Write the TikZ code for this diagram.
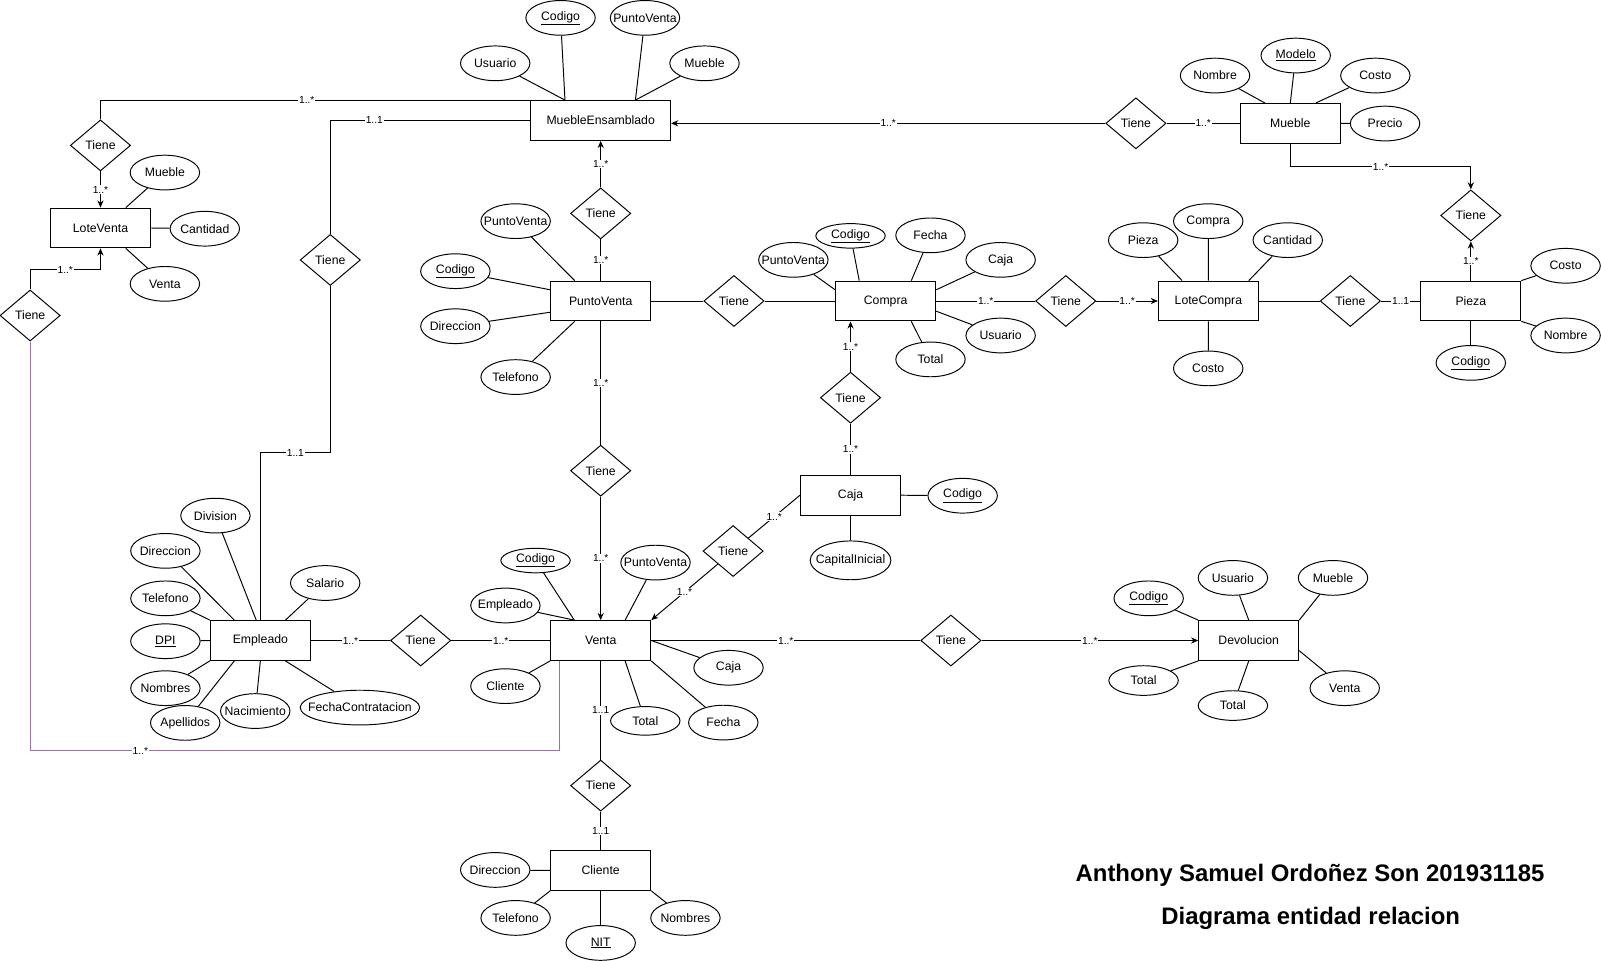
\documentclass[tikz,border=0pt]{standalone}
\usepackage{fontspec}
\setmainfont{Liberation Sans}
\usetikzlibrary{shapes.geometric,arrows.meta}
\newcommand{\zw}[1]{\makebox[0pt][c]{#1}}
\definecolor{purp}{HTML}{9673A6}
\begin{document}
\begin{tikzpicture}[x=1pt,y=-1pt,
 every node/.style={font=\fontsize{12}{14}\selectfont},
 ent/.style={draw,rectangle,minimum width=98pt,minimum height=39pt,inner sep=0pt,line width=0.95pt},
 rel/.style={draw,diamond,minimum width=59pt,minimum height=50pt,inner sep=0pt,line width=0.95pt},
 att/.style={draw,ellipse,minimum width=68pt,minimum height=34pt,inner sep=0pt,line width=0.95pt},
 lbl/.style={fill=white,inner sep=0.8pt,font=\fontsize{10}{11}\selectfont},
 con/.style={line width=0.95pt},
 arr/.style={con,-{Stealth[length=7pt,width=6pt]}},
 ttl/.style={font=\bfseries\fontsize{23.4}{27}\selectfont,anchor=base}]
\useasboundingbox (0,0) rectangle (1568,941);

% entities
\node[ent,minimum width=137pt] (me) at (588.3,118) {MuebleEnsamblado};
\node[ent] (mu) at (1263.7,120.8) {Mueble};
\node[ent] (lv) at (98.4,223.3) {LoteVenta};
\node[ent] (pv) at (588.3,294.8) {PuntoVenta};
\node[ent] (co) at (867.4,294.8) {Compra};
\node[ent] (lc) at (1183.5,294.8) {LoteCompra};
\node[ent] (pz) at (1440.5,294.8) {Pieza};
\node[ent] (cj) at (833,485) {Caja};
\node[ent] (em) at (255,627.3) {Empleado};
\node[ent] (ve) at (588.3,627.3) {Venta};
\node[ent] (dv) at (1223,627.3) {Devolucion};
\node[ent] (cl) at (588.3,852.5) {Cliente};

% relationships
\node[rel] (r1) at (98.4,142.4) {Tiene};
\node[rel] (r2) at (29.5,309) {Tiene};
\node[rel] (r3) at (323.5,254.6) {Tiene};
\node[rel] (r4) at (1112.5,120.8) {Tiene};
\node[rel] (r5) at (1440.5,211) {Tiene};
\node[rel] (r6) at (1322.5,294.8) {Tiene};
\node[rel] (r7) at (1043.8,294.8) {Tiene};
\node[rel] (r8) at (718.8,294.8) {Tiene};
\node[rel] (r9) at (833,389.5) {Tiene};
\node[rel] (r10) at (588.3,209) {Tiene};
\node[rel] (r11) at (588.3,461) {Tiene};
\node[rel] (r12) at (718,539.7) {Tiene};
\node[rel] (r13) at (412,627.3) {Tiene};
\node[rel] (r14) at (931.3,627.3) {Tiene};
\node[rel] (r15) at (588.3,769.4) {Tiene};

% attributes
\node[att] (meU) at (485,62) {\zw{Usuario}};
\node[att] (meC) at (549,17.5) {\zw{\underline{Codigo}}};
\node[att] (meP) at (631.7,17.5) {\zw{PuntoVenta}};
\node[att] (meM) at (690,62) {\zw{Mueble}};

\node[att] (muN) at (1190,74) {\zw{Nombre}};
\node[att] (muM) at (1269,54.4) {\zw{\underline{Modelo}}};
\node[att] (muC) at (1347,74) {\zw{Costo}};
\node[att] (muP) at (1356.5,121) {\zw{Precio}};

\node[att] (lvM) at (161.5,169) {\zw{Mueble}};
\node[att] (lvC) at (200.6,224) {\zw{Cantidad}};
\node[att] (lvV) at (161.5,278) {\zw{Venta}};

\node[att] (pvP) at (505,216.6) {\zw{PuntoVenta}};
\node[att] (pvC) at (446,265.6) {\zw{\underline{Codigo}}};
\node[att] (pvD) at (446,319.5) {\zw{Direccion}};
\node[att] (pvT) at (505,369.3) {\zw{Telefono}};

\node[att,minimum height=24pt] (coC) at (833,231) {\zw{\underline{Codigo}}};
\node[att] (coP) at (777,254.5) {\zw{PuntoVenta}};
\node[att] (coF) at (911.3,230.5) {\zw{Fecha}};
\node[att] (coJ) at (980,254.5) {\zw{Caja}};
\node[att] (coU) at (980,328.6) {\zw{Usuario}};
\node[att] (coT) at (911.3,352) {\zw{Total}};

\node[att] (lcP) at (1119.6,235.2) {\zw{Pieza}};
\node[att] (lcC) at (1183.3,216.6) {\zw{Compra}};
\node[att] (lcA) at (1261.2,235.2) {\zw{Cantidad}};
\node[att] (lcO) at (1183.3,360.8) {\zw{Costo}};

\node[att] (pzC) at (1533.3,260.3) {\zw{Costo}};
\node[att] (pzN) at (1533.3,328.6) {\zw{Nombre}};
\node[att] (pzK) at (1440.5,355.4) {\zw{\underline{Codigo}}};

\node[att] (cjC) at (942.8,485.5) {\zw{\underline{Codigo}}};
\node[att,minimum width=79pt,minimum height=38pt] (cjI) at (833,548.8) {\zw{CapitalInicial}};

\node[att] (emV) at (211,505) {\zw{Division}};
\node[att] (emD) at (162,539.5) {\zw{Direccion}};
\node[att] (emT) at (162,586) {\zw{Telefono}};
\node[att] (emS) at (318.5,571) {\zw{Salario}};
\node[att] (emI) at (162,628) {\zw{\underline{DPI}}};
\node[att] (emN) at (162,674) {\zw{Nombres}};
\node[att] (emA) at (181.4,708) {\zw{Apellidos}};
\node[att] (emB) at (250,696.4) {\zw{Nacimiento}};
\node[att,minimum width=117pt] (emF) at (352.5,693) {\zw{FechaContratacion}};

\node[att,minimum height=24pt] (veC) at (524.5,549) {\zw{\underline{Codigo}}};
\node[att] (veP) at (642,551) {\zw{PuntoVenta}};
\node[att] (veE) at (495,593) {\zw{Empleado}};
\node[att] (veL) at (495,672) {\zw{Cliente}};
\node[att] (veJ) at (713.5,654) {\zw{Caja}};
\node[att,minimum height=28pt] (veT) at (632,706) {\zw{Total}};
\node[att] (veF) at (708.4,707.7) {\zw{Fecha}};

\node[att] (dvC) at (1125,586) {\zw{\underline{Codigo}}};
\node[att] (dvU) at (1207.5,566) {\zw{Usuario}};
\node[att] (dvM) at (1305.5,566) {\zw{Mueble}};
\node[att,minimum height=29pt] (dvT) at (1120,666.5) {\zw{Total}};
\node[att,minimum height=29pt] (dvS) at (1207.5,691) {\zw{Total}};
\node[att] (dvV) at (1317,674) {\zw{Venta}};

\node[att] (clD) at (485,852) {\zw{Direccion}};
\node[att] (clT) at (505,899) {\zw{Telefono}};
\node[att] (clN) at (588.3,923.5) {\zw{\underline{NIT}}};
\node[att] (clO) at (671.3,899) {\zw{Nombres}};

% title
\node[ttl] (t1) at (1283,863) {Anthony Samuel Ordoñez Son 201931185};
\node[ttl] (t2) at (1283.7,905) {Diagrama entidad relacion};

% attribute connectors
\draw[con] (meU) -- ([xshift=34pt]me.north west);
\draw[con] (meC) -- ([xshift=34pt]me.north west);
\draw[con] (meP) -- ([xshift=103pt]me.north west);
\draw[con] (meM) -- ([xshift=103pt]me.north west);
\draw[con] (muN) -- ([xshift=24.5pt]mu.north west);
\draw[con] (muM) -- ([xshift=49.5pt]mu.north west);
\draw[con] (muC) -- ([xshift=74.5pt]mu.north west);
\draw[con] (muP) -- (mu.east);
\draw[con] (lvM) -- ([xshift=74.3pt]lv.north west);
\draw[con] (lvC) -- (lv.east);
\draw[con] (lvV) -- ([xshift=74.3pt]lv.south west);
\draw[con] (pvP) -- ([xshift=24pt]pv.north west);
\draw[con] (pvC) -- ([yshift=-9pt]pv.north west);
\draw[con] (pvD) -- ([yshift=-11pt]pv.west);
\draw[con] (pvT) -- ([xshift=24pt]pv.south west);
\draw[con] (coC) -- ([xshift=23.6pt]co.north west);
\draw[con] (coP) -- ([yshift=-9pt]co.north west);
\draw[con] (coF) -- ([xshift=74.6pt]co.north west);
\draw[con] (coJ) -- ([yshift=-9pt]co.north east);
\draw[con] (coU) -- ([yshift=10pt]co.south east);
\draw[con] (coT) -- ([xshift=74.6pt]co.south west);
\draw[con] (lcP) -- ([xshift=23.7pt]lc.north west);
\draw[con] (lcC) -- (lc.north);
\draw[con] (lcA) -- ([xshift=89pt]lc.north west);
\draw[con] (lcO) -- (lc.south);
\draw[con] (pzC) -- (pz.north east);
\draw[con] (pzN) -- (pz.south east);
\draw[con] (pzK) -- (pz.south);
\draw[con] (cjC) -- (cj.east);
\draw[con] (cjI) -- (cj.south);
\draw[con] (emV) -- ([xshift=45.4pt]em.north west);
\draw[con] (emD) -- ([xshift=24pt]em.north west);
\draw[con] (emT) -- (em.north west);
\draw[con] (emS) -- ([xshift=74pt]em.north west);
\draw[con] (emI) -- (em.west);
\draw[con] (emN) -- (em.south west);
\draw[con] (emA) -- ([xshift=24pt]em.south west);
\draw[con] (emB) -- (em.south);
\draw[con] (emF) -- ([xshift=74pt]em.south west);
\draw[con] (veC) -- ([xshift=23.6pt]ve.north west);
\draw[con] (veE) -- ([xshift=23.6pt]ve.north west);
\draw[con] (veP) -- ([xshift=73.4pt]ve.north west);
\draw[con] (veL) -- (ve.south west);
\draw[con] (veJ) -- (ve.east);
\draw[con] (veT) -- ([xshift=73.4pt]ve.south west);
\draw[con] (veF) -- (ve.south east);
\draw[con] (dvC) -- (dv.north west);
\draw[con] (dvU) -- (dv.north);
\draw[con] (dvM) -- (dv.north east);
\draw[con] (dvT) -- (dv.south west);
\draw[con] (dvS) -- (dv.south);
\draw[con] (dvV) -- ([yshift=-10pt]dv.east);
\draw[con] (clD) -- (cl.west);
\draw[con] (clT) -- (cl.south west);
\draw[con] (clN) -- (cl.south);
\draw[con] (clO) -- (cl.south east);

% relationship connectors
\draw[con] (r1.north) |- node[lbl,pos=0.74]{1..*} (me.north west);
\draw[arr] (r1) -- node[lbl]{1..*} (lv);
\draw[arr] (r2.north) -- (r2.north |- 0,264) -| node[lbl,pos=0.25]{1..*} (lv.south);
\draw[con,draw=purp] ([xshift=9.6pt]ve.south west) -- ++(0,88) -| node[lbl,pos=0.396]{1..*} (r2.south);
\draw[con] (em.north) -- (em.north |- 0,443.3) -- node[lbl]{1..1} (r3.south |- 0,443.3) -- (r3.south);
\draw[con] (r3.north) |- node[lbl,pos=0.61]{1..1} (me.west);
\draw[arr] (r4.west) -- node[lbl]{1..*} (r4.west -| me.east);
\draw[con] (r4) -- node[lbl]{1..*} (mu);
\draw[arr] (mu.south) -- (mu.south |- 0,163.2) -| node[lbl,pos=0.25]{1..*} (r5.north);
\draw[arr] (pz) -- node[lbl]{1..*} (r5);
\draw[con] (lc) -- (r6);
\draw[con] (r6) -- node[lbl]{1..1} (pz);
\draw[con] (co) -- node[lbl]{1..*} (r7);
\draw[arr] (r7) -- node[lbl]{1..*} (lc);
\draw[con] (pv) -- (r8);
\draw[con] (r8) -- (co);
\draw[con] (cj.north) -- node[lbl]{1..*} (r9.south);
\draw[arr] (r9.north) -- node[lbl]{1..*} (r9.north |- co.south);
\draw[con] (pv) -- node[lbl]{1..*} (r10);
\draw[arr] (r10) -- node[lbl]{1..*} (me);
\draw[con] (pv) -- node[lbl]{1..*} (r11);
\draw[arr] (r11) -- node[lbl]{1..*} (ve);
\draw[con] (cj.west) -- node[lbl]{1..*} (r12.north east);
\draw[arr] (r12.south west) -- node[lbl]{1..*} (ve.north east);
\draw[con] (em) -- node[lbl]{1..*} (r13);
\draw[con] (r13) -- node[lbl]{1..*} (ve);
\draw[con] (ve) -- node[lbl]{1..*} (r14);
\draw[arr] (r14) -- node[lbl]{1..*} (dv);
\draw[con] (ve) -- node[lbl]{1..1} (r15);
\draw[con] (r15) -- node[lbl]{1..1} (cl);
\end{tikzpicture}
\end{document}
